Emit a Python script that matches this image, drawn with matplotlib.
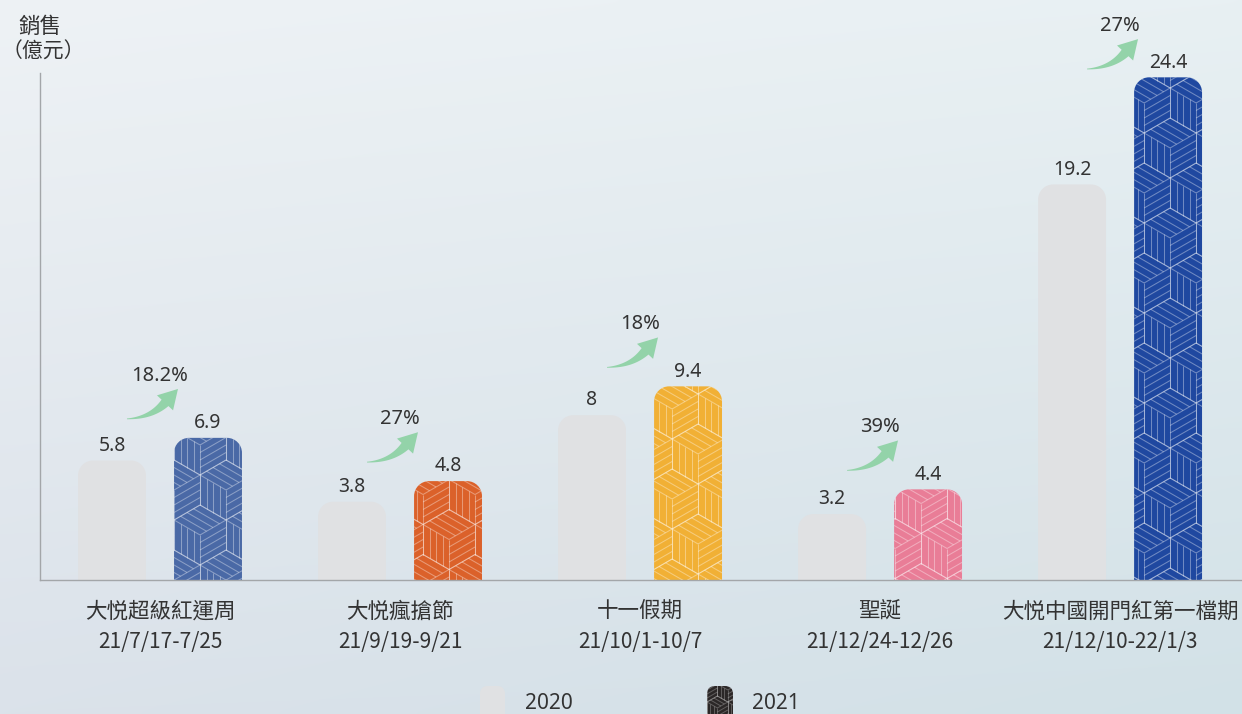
import numpy as np
import matplotlib
matplotlib.use('Agg')
import matplotlib.pyplot as plt
from matplotlib.path import Path
from matplotlib.patches import PathPatch, FancyBboxPatch, Polygon
from matplotlib.collections import LineCollection
import matplotlib.transforms as mtrans

# ---------------- data ----------------
categories = ['大悦超級紅運周', '大悦瘋搶節', '十一假期', '聖誕', '大悦中國開門紅第一檔期']
periods = ['21/7/17-7/25', '21/9/19-9/21', '21/10/1-10/7', '21/12/24-12/26', '21/12/10-22/1/3']
sales_2020 = [5.8, 3.8, 8, 3.2, 19.2]
sales_2021 = [6.9, 4.8, 9.4, 4.4, 24.4]
growth = ['18.2%', '27%', '18%', '39%', '27%']
series = ['2020', '2021']
y_label = ['銷售', '（億元）']

# ---------------- style ----------------
colors_2021 = ['#4a69a6', '#db612a', '#f1b035', '#e97d97', '#1f48a0']
color_2020 = '#e0e1e3'
legend_2021_color = '#2b2727'
text_color = '#333333'
arrow_color = '#93d3a9'
CJK = ['Noto Sans CJK TC', 'DejaVu Sans']
LAT = ['Noto Sans', 'Noto Sans CJK TC', 'DejaVu Sans']
plt.rcParams['font.family'] = CJK

W, H = 1242, 714
fig = plt.figure(figsize=(W / 100, H / 100), dpi=100)

# background gradient
bg = fig.add_axes([0, 0, 1, 1], zorder=0)
bg.set_xlim(0, W)
bg.set_ylim(H, 0)
bg.axis('off')
yy, xx = np.mgrid[0:1:120j, 0:1:200j]
tl = np.array([0xee, 0xf2, 0xf5]) / 255
tr = np.array([0xe8, 0xf0, 0xf3]) / 255
bl = np.array([0xdb, 0xe2, 0xea]) / 255
br = np.array([0xd2, 0xe1, 0xe7]) / 255
X = xx[..., None]
Y = yy[..., None]
img = tl * (1 - X) * (1 - Y) + tr * X * (1 - Y) + bl * (1 - X) * Y + br * X * Y
bg.imshow(np.clip(img, 0, 1), extent=(0, W, H, 0), aspect='auto', interpolation='bicubic')

# main axes
ax_left, ax_bottom, ax_top = 40, 580, 73
ax = fig.add_axes([ax_left / W, (H - ax_bottom) / H, (W - ax_left) / W, (ax_bottom - ax_top) / H], zorder=1)
ax.patch.set_alpha(0)
n = len(categories)
xs = np.arange(n)
ax.set_xlim(-0.5, n - 0.492)
ax.set_ylim(0, 24.61)
for s in ['top', 'right']:
    ax.spines[s].set_visible(False)
for s in ['left', 'bottom']:
    ax.spines[s].set_color('#a3a6a9')
    ax.spines[s].set_linewidth(1.0)
ax.set_xticks([])
ax.set_yticks([])

ppx = ax.bbox.width / (ax.get_xlim()[1] - ax.get_xlim()[0])
ppy = ax.bbox.height / (ax.get_ylim()[1] - ax.get_ylim()[0])

offset = 0.2
bar_w = 0.283
radius_px = 15


def top_rounded_path(x0, x1, y1, rx, ry):
    k = 0.5523
    verts = [(x0, 0), (x0, y1 - ry),
             (x0, y1 - ry + k * ry), (x0 + rx - k * rx, y1), (x0 + rx, y1),
             (x1 - rx, y1),
             (x1 - rx + k * rx, y1), (x1, y1 - ry + k * ry), (x1, y1 - ry),
             (x1, 0), (x0, 0)]
    codes = [Path.MOVETO, Path.LINETO,
             Path.CURVE4, Path.CURVE4, Path.CURVE4,
             Path.LINETO,
             Path.CURVE4, Path.CURVE4, Path.CURVE4,
             Path.LINETO, Path.CLOSEPOLY]
    return Path(verts, codes)


def cube_segments(w, h, s=30.0, nstr=4, ox=0.0, oy=0.0):
    r = s * np.sqrt(3) / 2
    segs = []
    ncol = int(w / (2 * r)) + 3
    nrow = int(h / (1.5 * s)) + 3
    for j in range(-1, nrow):
        for i in range(-1, ncol):
            c = np.array([ox + i * 2 * r + (j % 2) * r, oy + j * 1.5 * s])
            T = c + (0, s); UR = c + (r, s / 2); LR = c + (r, -s / 2)
            B = c + (0, -s); LL = c + (-r, -s / 2); UL = c + (-r, s / 2)
            ring = [T, UR, LR, B, LL, UL, T]
            for p, q in zip(ring[:-1], ring[1:]):
                segs.append([p, q])
            for p in (UL, UR, B):
                segs.append([c, p])
            a_ul, a_ur, a_b = UL - c, UR - c, B - c
            for k in range(1, nstr):
                f = k / nstr
                segs.append([c + f * a_ur, c + f * a_ur + a_ul])
                segs.append([c + f * a_ul, c + f * a_ul + a_b])
                segs.append([c + f * a_b, c + f * a_b + a_ur])
    return np.array(segs)


def draw_bar(xc, v, color, pattern, phase=0.0):
    x0, x1 = xc - bar_w / 2, xc + bar_w / 2
    path = top_rounded_path(x0, x1, v, radius_px / ppx, radius_px / ppy)
    patch = PathPatch(path, facecolor=color, edgecolor='none', zorder=2)
    ax.add_patch(patch)
    if pattern:
        wpx = (x1 - x0) * ppx
        hpx = v * ppy
        segs = cube_segments(wpx, hpx, ox=phase, oy=-phase * 0.5)
        segs_d = segs.copy()
        segs_d[..., 0] = segs[..., 0] / ppx + x0
        segs_d[..., 1] = segs[..., 1] / ppy
        lc = LineCollection(segs_d, colors=(1, 1, 1, 0.36), linewidths=0.75, zorder=3)
        ax.add_collection(lc)
        lc.set_clip_path(patch)
    return patch


def arrow_poly(tx, ty):
    P0 = np.array([-51., -29.]); P1 = np.array([-27., -28.]); P2 = np.array([-13., -13.])
    t = np.linspace(0, 1, 40)
    pts = ((1 - t) ** 2)[:, None] * P0 + (2 * (1 - t) * t)[:, None] * P1 + (t ** 2)[:, None] * P2
    d = 2 * (1 - t)[:, None] * (P1 - P0) + 2 * t[:, None] * (P2 - P1)
    d /= np.linalg.norm(d, axis=1)[:, None]
    nrm = np.stack([-d[:, 1], d[:, 0]], axis=1)
    wdt = 0.4 + 4.3 * t ** 1.2
    left = pts + nrm * wdt[:, None]
    right = pts - nrm * wdt[:, None]
    dirv, nv = d[-1], nrm[-1]
    hb1 = P2 + nv * 11
    hb2 = P2 - nv * 11
    tip = P2 + dirv * 19
    poly = np.vstack([left, hb1[None], tip[None], hb2[None], right[::-1]])
    return poly + (tx, ty)


for i in range(n):
    v0, v1 = sales_2020[i], sales_2021[i]
    draw_bar(xs[i] - offset, v0, color_2020, False)
    draw_bar(xs[i] + offset, v1, colors_2021[i], True, phase=i * 9.0)
    for xc, v in ((xs[i] - offset, v0), (xs[i] + offset, v1)):
        ax.annotate(f'{v:g}', (xc, v), xytext=(0, 7), textcoords='offset points',
                    ha='center', va='baseline', fontsize=14, color=text_color,
                    family=LAT, annotation_clip=False)
    # growth arrow + label (display pixels)
    gx, top_d = ax.transData.transform((xs[i], v1))
    tip_y = min(top_d + 48, H - 40)
    tip_x = gx + 18
    arr = Polygon(arrow_poly(tip_x, tip_y), closed=True, facecolor=arrow_color,
                  edgecolor='none', transform=mtrans.IdentityTransform(), clip_on=False, zorder=4)
    ax.add_patch(arr)
    ax.annotate(growth[i], (gx, tip_y + 9), xycoords='figure pixels', ha='center', va='baseline',
                fontsize=14.5, color=text_color, family=LAT, annotation_clip=False)
    # category labels
    ax.annotate(categories[i], (xs[i], 0), xycoords=('data', 'axes fraction'),
                xytext=(0, -38 * 0.72), textcoords='offset points', ha='center', va='baseline',
                fontsize=15.5, color=text_color, family=CJK, annotation_clip=False)
    ax.annotate(periods[i], (xs[i], 0), xycoords=('data', 'axes fraction'),
                xytext=(0, -68 * 0.72), textcoords='offset points', ha='center', va='baseline',
                fontsize=15, color=text_color, family=CJK, annotation_clip=False)

# y-axis title
bg.text(40, 33, y_label[0], ha='center', va='baseline', fontsize=15.5, color=text_color, family=CJK)
bg.text(2, 58, y_label[1], ha='left', va='baseline', fontsize=15, color=text_color, family=CJK)

# legend
sw0 = FancyBboxPatch((480, 686), 25, 40, boxstyle='round,pad=0,rounding_size=8',
                     facecolor=color_2020, edgecolor='none', zorder=2)
bg.add_patch(sw0)
sw1 = FancyBboxPatch((707, 686), 26, 40, boxstyle='round,pad=0,rounding_size=8',
                     facecolor=legend_2021_color, edgecolor='none', zorder=2)
bg.add_patch(sw1)
lsegs = cube_segments(26, 40, s=12.0, nstr=3)
lsegs[..., 0] = lsegs[..., 0] + 707
lsegs[..., 1] = 726 - lsegs[..., 1]
llc = LineCollection(lsegs, colors=(1, 1, 1, 0.25), linewidths=0.7, zorder=3)
bg.add_collection(llc)
llc.set_clip_path(sw1)
bg.text(549, 709, series[0], ha='center', va='baseline', fontsize=15, color=text_color, family=LAT)
bg.text(776, 709, series[1], ha='center', va='baseline', fontsize=15, color=text_color, family=LAT)

fig.savefig('out.png', dpi=100)
